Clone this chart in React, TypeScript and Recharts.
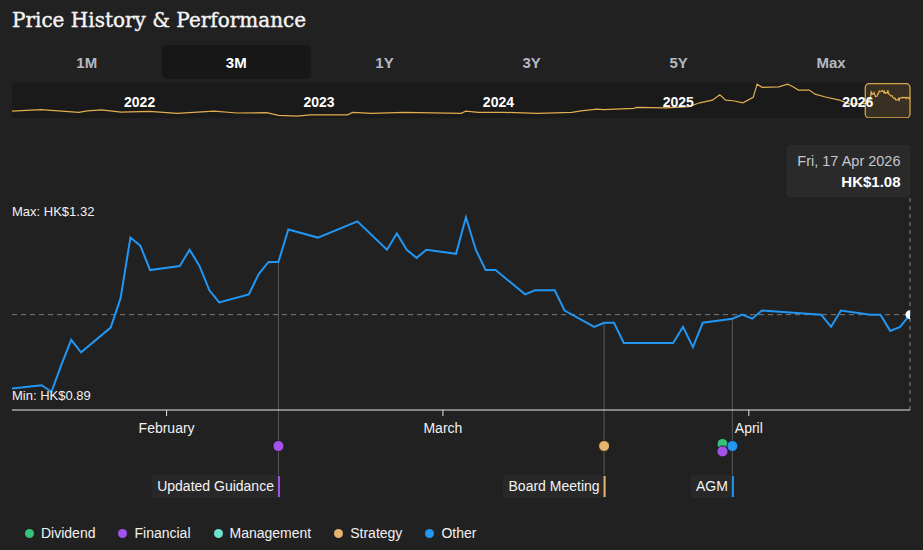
import React from 'react';
import { LineChart, Line, XAxis, YAxis, ReferenceLine, ReferenceDot, ReferenceArea } from 'recharts';

// daily closes, last 3 months
const priceDates = [
  '2026-01-16', '2026-01-19', '2026-01-20', '2026-01-21', '2026-01-22', '2026-01-23',
  '2026-01-26', '2026-01-27', '2026-01-28', '2026-01-29', '2026-01-30',
  '2026-02-02', '2026-02-03', '2026-02-04', '2026-02-05', '2026-02-06',
  '2026-02-09', '2026-02-10', '2026-02-11', '2026-02-12', '2026-02-13',
  '2026-02-16', '2026-02-20',
  '2026-02-23', '2026-02-24', '2026-02-25', '2026-02-26', '2026-02-27',
  '2026-03-02', '2026-03-03', '2026-03-04', '2026-03-05', '2026-03-06',
  '2026-03-09', '2026-03-10', '2026-03-11', '2026-03-12', '2026-03-13',
  '2026-03-16', '2026-03-17', '2026-03-18', '2026-03-19', '2026-03-20',
  '2026-03-23', '2026-03-24', '2026-03-25', '2026-03-26', '2026-03-27',
  '2026-03-30', '2026-03-31', '2026-04-01', '2026-04-02',
  '2026-04-08', '2026-04-09', '2026-04-10',
  '2026-04-13', '2026-04-14', '2026-04-15', '2026-04-16', '2026-04-17',
];
const prices = [
  0.898, 0.906, 0.89, 0.956, 1.018, 0.987,
  1.048, 1.12, 1.27, 1.25, 1.19,
  1.2, 1.24, 1.2, 1.14, 1.11,
  1.13, 1.18, 1.21, 1.21, 1.29,
  1.27, 1.31,
  1.24, 1.28, 1.24, 1.22, 1.24,
  1.23, 1.32, 1.24, 1.19, 1.19,
  1.13, 1.14, 1.14, 1.14, 1.09,
  1.05, 1.06, 1.06, 1.01, 1.01,
  1.01, 1.01, 1.05, 1.0, 1.06,
  1.07, 1.08, 1.07, 1.09,
  1.08, 1.05, 1.09,
  1.08, 1.08, 1.04, 1.05, 1.08,
];

// 5Y history for the navigator strip (before the 3M window)
const historyDates = [
  '2021-04-16', '2021-06-14', '2021-08-30', '2021-09-16', '2021-10-15', '2021-11-24',
  '2022-01-21', '2022-03-18', '2022-06-01', '2022-07-18', '2022-09-16', '2022-10-10',
  '2022-11-18', '2022-12-13', '2023-02-28', '2023-03-10', '2023-04-18', '2023-06-23',
  '2023-10-17', '2023-10-26', '2023-11-21', '2024-01-12', '2024-03-20', '2024-05-29',
  '2024-06-17', '2024-07-19', '2024-08-02', '2024-10-02', '2024-10-08', '2024-12-06',
  '2025-01-22', '2025-02-13', '2025-03-11', '2025-03-26', '2025-04-07', '2025-04-22',
  '2025-05-12', '2025-06-02', '2025-06-10', '2025-06-20', '2025-07-24', '2025-08-11',
  '2025-08-22', '2025-09-02', '2025-09-24', '2025-10-06', '2025-10-27', '2025-11-25',
  '2025-12-15',
];
const historyPrices = [
  0.65, 0.7, 0.61, 0.66, 0.69, 0.62,
  0.64, 0.58, 0.65, 0.59, 0.6, 0.515,
  0.49, 0.53, 0.53, 0.61, 0.58, 0.61,
  0.58, 0.65, 0.61, 0.61, 0.58, 0.61,
  0.66, 0.71, 0.7, 0.74, 0.77, 0.75,
  0.79, 0.915, 1.0, 1.17, 1.0, 0.98,
  0.915, 1.09, 1.51, 1.41, 1.425, 1.51,
  1.425, 1.32, 1.32, 1.19, 1.1, 1.0,
  0.875,
];

const ranges = ['1M', '3M', '1Y', '3Y', '5Y', 'Max'];
const activeRange = '3M';

const monthTicks = ['2026-02-01', '2026-03-01', '2026-04-01'];
const monthNames = ['February', 'March', 'April'];
const yearTicks = [2022, 2023, 2024, 2025, 2026];

const categories = ['Dividend', 'Financial', 'Management', 'Strategy', 'Other'];
const categoryColors = ['#34c27c', '#a352ec', '#6fe3cf', '#e6b46c', '#2196f3'];

const eventDates = ['2026-02-12', '2026-03-17', '2026-03-29', '2026-03-29', '2026-03-30'];
const eventTypes = ['Financial', 'Strategy', 'Dividend', 'Financial', 'Other'];
const eventLabels = ['Updated Guidance', 'Board Meeting', '', '', 'AGM'];

const SANS = '"Liberation Sans", Arial, sans-serif';
const BG = '#212121';
const LINE = '#2196f3';
const GOLD = '#e2ae50';
const Y_DOMAIN: [number, number] = [0.845, 1.37];

// closes stamped at 16:00 HKT = 08:00 UTC
const ts = (s: string, hour = 8) => {
  const [y, m, d] = s.split('-').map(Number);
  return Date.UTC(y, m - 1, d, hour);
};

const rows = priceDates.map((d, i) => ({ t: ts(d), price: prices[i] }));
const navRows = [
  ...historyDates.map((d, i) => ({ t: ts(d), price: historyPrices[i] })),
  ...rows,
];
const monthTickTs = monthTicks.map(d => ts(d, 0));
const yearTickTs = yearTicks.map(y => Date.UTC(y, 0, 1));

const last = rows[rows.length - 1];
const maxPrice = Math.max(...prices);
const minPrice = Math.min(...prices);

const colorOf = (cat: string) => categoryColors[categories.indexOf(cat)];

let measureCtx: CanvasRenderingContext2D | null = null;
function textWidth(text: string, font: string) {
  if (!measureCtx) measureCtx = document.createElement('canvas').getContext('2d');
  if (!measureCtx) return text.length * 7.5;
  measureCtx.font = font;
  return measureCtx.measureText(text).width;
}

const DAYS = ['Sun', 'Mon', 'Tue', 'Wed', 'Thu', 'Fri', 'Sat'];
const MONTHS = ['Jan', 'Feb', 'Mar', 'Apr', 'May', 'Jun', 'Jul', 'Aug', 'Sep', 'Oct', 'Nov', 'Dec'];
function fmtDate(t: number) {
  const d = new Date(t);
  return `${DAYS[d.getUTCDay()]}, ${d.getUTCDate()} ${MONTHS[d.getUTCMonth()]} ${d.getUTCFullYear()}`;
}

// events grouped by day
const eventGroups = Array.from(new Set(eventDates)).map(date => ({
  date,
  items: eventDates
    .map((d, i) => ({ d, type: eventTypes[i], label: eventLabels[i] }))
    .filter(e => e.d === date),
}));

function eventMarks(items: { type: string; label: string }[]) {
  return (p: any) => {
    const { x, y, height } = p.viewBox;
    const base = y + height;
    const n = items.length;
    const tagged = items.find(e => e.label);
    const boxTop = base + 65;
    let tag = null;
    if (tagged) {
      const tw = textWidth(tagged.label, `14px ${SANS}`);
      const left = x - 4.5 - tw - 5.5;
      tag = (
        <g>
          <line x1={x} y1={base} x2={x} y2={boxTop} stroke="#5a5a5a" strokeWidth={1} />
          <rect x={left} y={boxTop} width={x + 2 - left} height={23} rx={3} fill="#282828" />
          <text x={x - 4.5} y={boxTop + 15.5} textAnchor="end" fill="#f4f4f4" fontSize={14} fontFamily={SANS}>
            {tagged.label}
          </text>
          <rect x={x - 0.5} y={boxTop + 1} width={2} height={21} fill={colorOf(tagged.type)} />
        </g>
      );
    }
    return (
      <g>
        {tag}
        {items.map((e, k) => (
          <circle
            key={k}
            cx={x}
            cy={base + 36 + (n > 1 ? (k - (n - 1) / 2) * 7.4 + 1.7 : 0)}
            r={5.5}
            fill={colorOf(e.type)}
            stroke={BG}
            strokeWidth={1}
          />
        ))}
      </g>
    );
  };
}

const tipLabel = (p: any) => {
  const { x, y } = p.viewBox;
  const dateText = fmtDate(last.t);
  const priceText = `HK$${last.price.toFixed(2)}`;
  const w = Math.ceil(Math.max(
    textWidth(dateText, `14.5px ${SANS}`),
    textWidth(priceText, `bold 15px ${SANS}`),
  )) + 20;
  return (
    <g>
      <rect x={x + 0.5 - w} y={y - 52} width={w} height={52} rx={4} fill="#2a2a2a" />
      <text x={x - 9.5} y={y - 31} textAnchor="end" fill="#c3c7ce" fontSize={14.5} fontFamily={SANS}>{dateText}</text>
      <text x={x - 9.5} y={y - 10.5} textAnchor="end" fill="#ffffff" fontSize={15} fontWeight={700} fontFamily={SANS}>{priceText}</text>
    </g>
  );
};

const extremeLabel = (text: string, dy: number) => (p: any) => (
  <text x={p.viewBox.x} y={p.viewBox.y + dy} fill="#f2f2f2" fontSize={13} fontFamily={SANS}>{text}</text>
);

const yearLabel = (year: number) => (p: any) => (
  <text
    x={p.viewBox.x}
    y={p.viewBox.y + 22.5}
    textAnchor="middle"
    fill="#ffffff"
    fontSize={14}
    fontWeight={700}
    fontFamily={SANS}
  >
    {year}
  </text>
);

function Tabs() {
  return (
    <div style={{ position: 'absolute', left: 12, top: 45, width: 898, height: 34, display: 'flex' }}>
      {ranges.map(r => (
        <div
          key={r}
          style={{
            flex: '1 1 auto',
            display: 'flex',
            alignItems: 'center',
            justifyContent: 'center',
            borderRadius: 5,
            background: r === activeRange ? '#171717' : 'transparent',
            color: r === activeRange ? '#ffffff' : '#b3b9c4',
            fontWeight: 700,
            fontSize: 15,
            paddingTop: 1,
          }}
        >
          {r}
        </div>
      ))}
    </div>
  );
}

function Navigator() {
  return (
    <div style={{ position: 'absolute', left: 0, top: 83 }}>
      <div style={{ position: 'absolute', left: 12, top: 0, width: 898, height: 35, background: '#1a1a1a' }} />
      <LineChart width={923} height={35} data={navRows} margin={{ top: 1, right: 13, bottom: 0, left: 12 }}>
        <XAxis dataKey="t" type="number" domain={['dataMin', 'dataMax']} hide />
        <YAxis hide type="number" domain={[0.43, 1.515]} />
        <Line dataKey="price" stroke={GOLD} strokeWidth={1.2} dot={false} activeDot={false} isAnimationActive={false} />
        <ReferenceArea
          x1={rows[0].t}
          x2={last.t}
          shape={(p: any) => (
            <rect
              x={p.x}
              y={p.y - 0.5}
              width={p.width}
              height={p.height + 0.5}
              rx={4}
              fill="rgba(226,174,80,0.15)"
              stroke="#d6a449"
              strokeWidth={1.3}
            />
          )}
        />
        {yearTickTs.map((t, i) => (
          <ReferenceLine key={t} x={t} stroke="none" label={yearLabel(yearTicks[i])} />
        ))}
      </LineChart>
    </div>
  );
}

function Legend() {
  return (
    <div style={{ position: 'absolute', left: 25, top: 524, height: 18, display: 'flex', alignItems: 'center' }}>
      {categories.map((c, i) => (
        <div key={c} style={{ display: 'flex', alignItems: 'center', marginRight: 23 }}>
          <span style={{ width: 9, height: 9, borderRadius: '50%', background: categoryColors[i], marginRight: 7 }} />
          <span style={{ color: '#f2f2f2', fontSize: 14 }}>{c}</span>
        </div>
      ))}
    </div>
  );
}

export default function App() {
  return (
    <div style={{ position: 'relative', width: 923, height: 550, background: BG, overflow: 'hidden', fontFamily: SANS }}>
      <style>{`html,body{margin:0;background:${BG}}`}</style>
      <div
        style={{
          position: 'absolute', left: 12, top: 10, fontFamily: '"DejaVu Serif", serif',
          fontSize: 20, lineHeight: '20px', color: '#f5f5f5', whiteSpace: 'nowrap',
          WebkitTextStroke: '0.4px #f5f5f5',
        }}
      >
        Price History &amp; Performance
      </div>
      <Tabs />
      <Navigator />
      <div style={{ position: 'absolute', left: 0, top: 140 }}>
        <LineChart width={923} height={410} data={rows} margin={{ top: 57, right: 13, bottom: 110, left: 12 }}>
          <XAxis
            dataKey="t"
            type="number"
            domain={['dataMin', 'dataMax']}
            ticks={monthTickTs}
            interval={0}
            tickFormatter={(v: number) => monthNames[monthTickTs.indexOf(v)]}
            axisLine={{ stroke: '#e6e6e6' }}
            tickLine={{ stroke: '#e6e6e6' }}
            tickSize={6}
            tickMargin={7}
            tick={{ fill: '#f2f2f2', fontSize: 14 }}
            height={30}
          />
          <YAxis hide type="number" domain={Y_DOMAIN} />
          <ReferenceLine y={last.price} stroke="#7c7c7c" strokeDasharray="5 4" />
          <ReferenceLine x={last.t} stroke="#8a8a8a" strokeDasharray="4 4" label={tipLabel} />
          {eventGroups.map(g => {
            const idx = priceDates.indexOf(g.date);
            const t = ts(g.date);
            const hasTag = g.items.some(e => e.label);
            return idx >= 0 && hasTag ? (
              <ReferenceLine
                key={g.date}
                segment={[{ x: t, y: prices[idx] }, { x: t, y: Y_DOMAIN[0] }]}
                stroke="#5a5a5a"
                label={eventMarks(g.items)}
              />
            ) : (
              <ReferenceLine key={g.date} x={t} stroke="none" label={eventMarks(g.items)} />
            );
          })}
          <Line
            dataKey="price"
            stroke={LINE}
            strokeWidth={2}
            dot={false}
            activeDot={false}
            isAnimationActive={false}
          />
          <ReferenceLine y={maxPrice} stroke="none" label={extremeLabel(`Max: HK$${maxPrice.toFixed(2)}`, -1)} />
          <ReferenceLine y={minPrice} stroke="none" label={extremeLabel(`Min: HK$${minPrice.toFixed(2)}`, 8.5)} />
          <ReferenceDot x={last.t} y={last.price} r={4.5} fill="#ffffff" stroke="none" ifOverflow="hidden" />
        </LineChart>
      </div>
      <Legend />
    </div>
  );
}
